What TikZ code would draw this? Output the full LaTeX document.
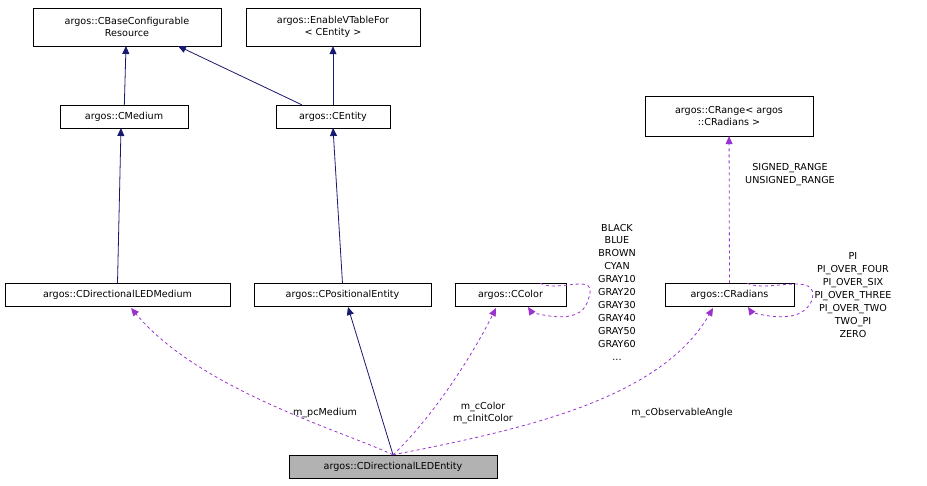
\documentclass[tikz,border=0pt]{standalone}
\usepackage{fontspec}
\setmainfont{DejaVu Sans}
\usetikzlibrary{arrows.meta}
\definecolor{inh}{HTML}{191970}
\definecolor{usg}{HTML}{9A32CD}

\begin{document}
\begin{tikzpicture}[x=1pt,y=-1pt,
  cls/.style={draw, font=\fontsize{9.6}{11.5}\selectfont, align=center, inner sep=2pt, minimum height=23pt},
  lbl/.style={font=\fontsize{9.6}{12.9}\selectfont, align=center, inner sep=0pt},
  inherit/.style={-{Triangle[open,fill=inh,length=8pt,width=7pt]}, draw=inh, thick},
  uses/.style={-{Triangle[open,fill=usg,length=8pt,width=7pt]}, draw=usg, dashed, thick}]
\useasboundingbox (0,0) rectangle (927,485);
% classes
\node[cls, minimum width=188pt, minimum height=38pt] (base) at (127,27) {argos::CBaseConfigurable\\Resource};
\node[cls, minimum width=174pt, minimum height=38pt] (vtab) at (333,27) {argos::EnableVTableFor\\< CEntity >};
\node[cls, minimum width=128pt] (medium) at (124,116.5) {argos::CMedium};
\node[cls, minimum width=114pt] (entity) at (333,116.5) {argos::CEntity};
\node[cls, minimum width=168pt, minimum height=40pt] (range) at (729,116) {argos::CRange< argos\\::CRadians >};
\node[cls, minimum width=225pt] (ledmed) at (117.5,295) {argos::CDirectionalLEDMedium};
\node[cls, minimum width=177pt] (posent) at (342.5,295) {argos::CPositionalEntity};
\node[cls, minimum width=111pt] (color) at (510.5,295) {argos::CColor};
\node[cls, minimum width=129pt] (radians) at (729.5,295) {argos::CRadians};
\node[cls, minimum width=208pt, fill=black!30] (ledent) at (393,466.5) {argos::CDirectionalLEDEntity};

% inheritance
\draw[inherit] (medium) -- (126,46);
\draw[inherit] (entity.north west) ++(26,0) -- (178,46);
\draw[inherit] (entity) -- (vtab);
\draw[inherit] (ledmed.north) -- (121,128);
\draw[inherit] (posent.north) -- (333,128);
\draw[inherit] (ledent.north) -- (348,307);

% usage
\draw[uses] (ledent.north) .. controls (340,430) and (200,390) .. (131,308);
\draw[uses] (ledent.north) .. controls (430,420) and (470,360) .. (496,308);
\draw[uses] (ledent.north) .. controls (520,430) and (660,400) .. (713,308);
\draw[uses] (radians.north) -- (range);
\draw[uses] (color.north east) ++(-26,0) .. controls ++(20,10) and (600,270) .. (588,300)
  .. controls (580,330) and (530,310) .. (528,307);
\draw[uses] (radians.north east) ++(-47,0) .. controls ++(20,10) and (820,270) .. (812,300)
  .. controls (800,330) and (750,310) .. (748,307);

% labels
\node[lbl] (l1) at (325,413) {m\_pcMedium};
\node[lbl] (l2) at (483,413) {m\_cColor\\m\_cInitColor};
\node[lbl] (l3) at (682,413) {m\_cObservableAngle};
\node[lbl] (l4) at (790,175) {SIGNED\_RANGE\\UNSIGNED\_RANGE};
\node[lbl] (l5) at (617,292) {BLACK\\BLUE\\BROWN\\CYAN\\GRAY10\\GRAY20\\GRAY30\\GRAY40\\GRAY50\\GRAY60\\...};
\node[lbl] (l6) at (853,295) {PI\\PI\_OVER\_FOUR\\PI\_OVER\_SIX\\PI\_OVER\_THREE\\PI\_OVER\_TWO\\TWO\_PI\\ZERO};
\end{tikzpicture}
\end{document}
